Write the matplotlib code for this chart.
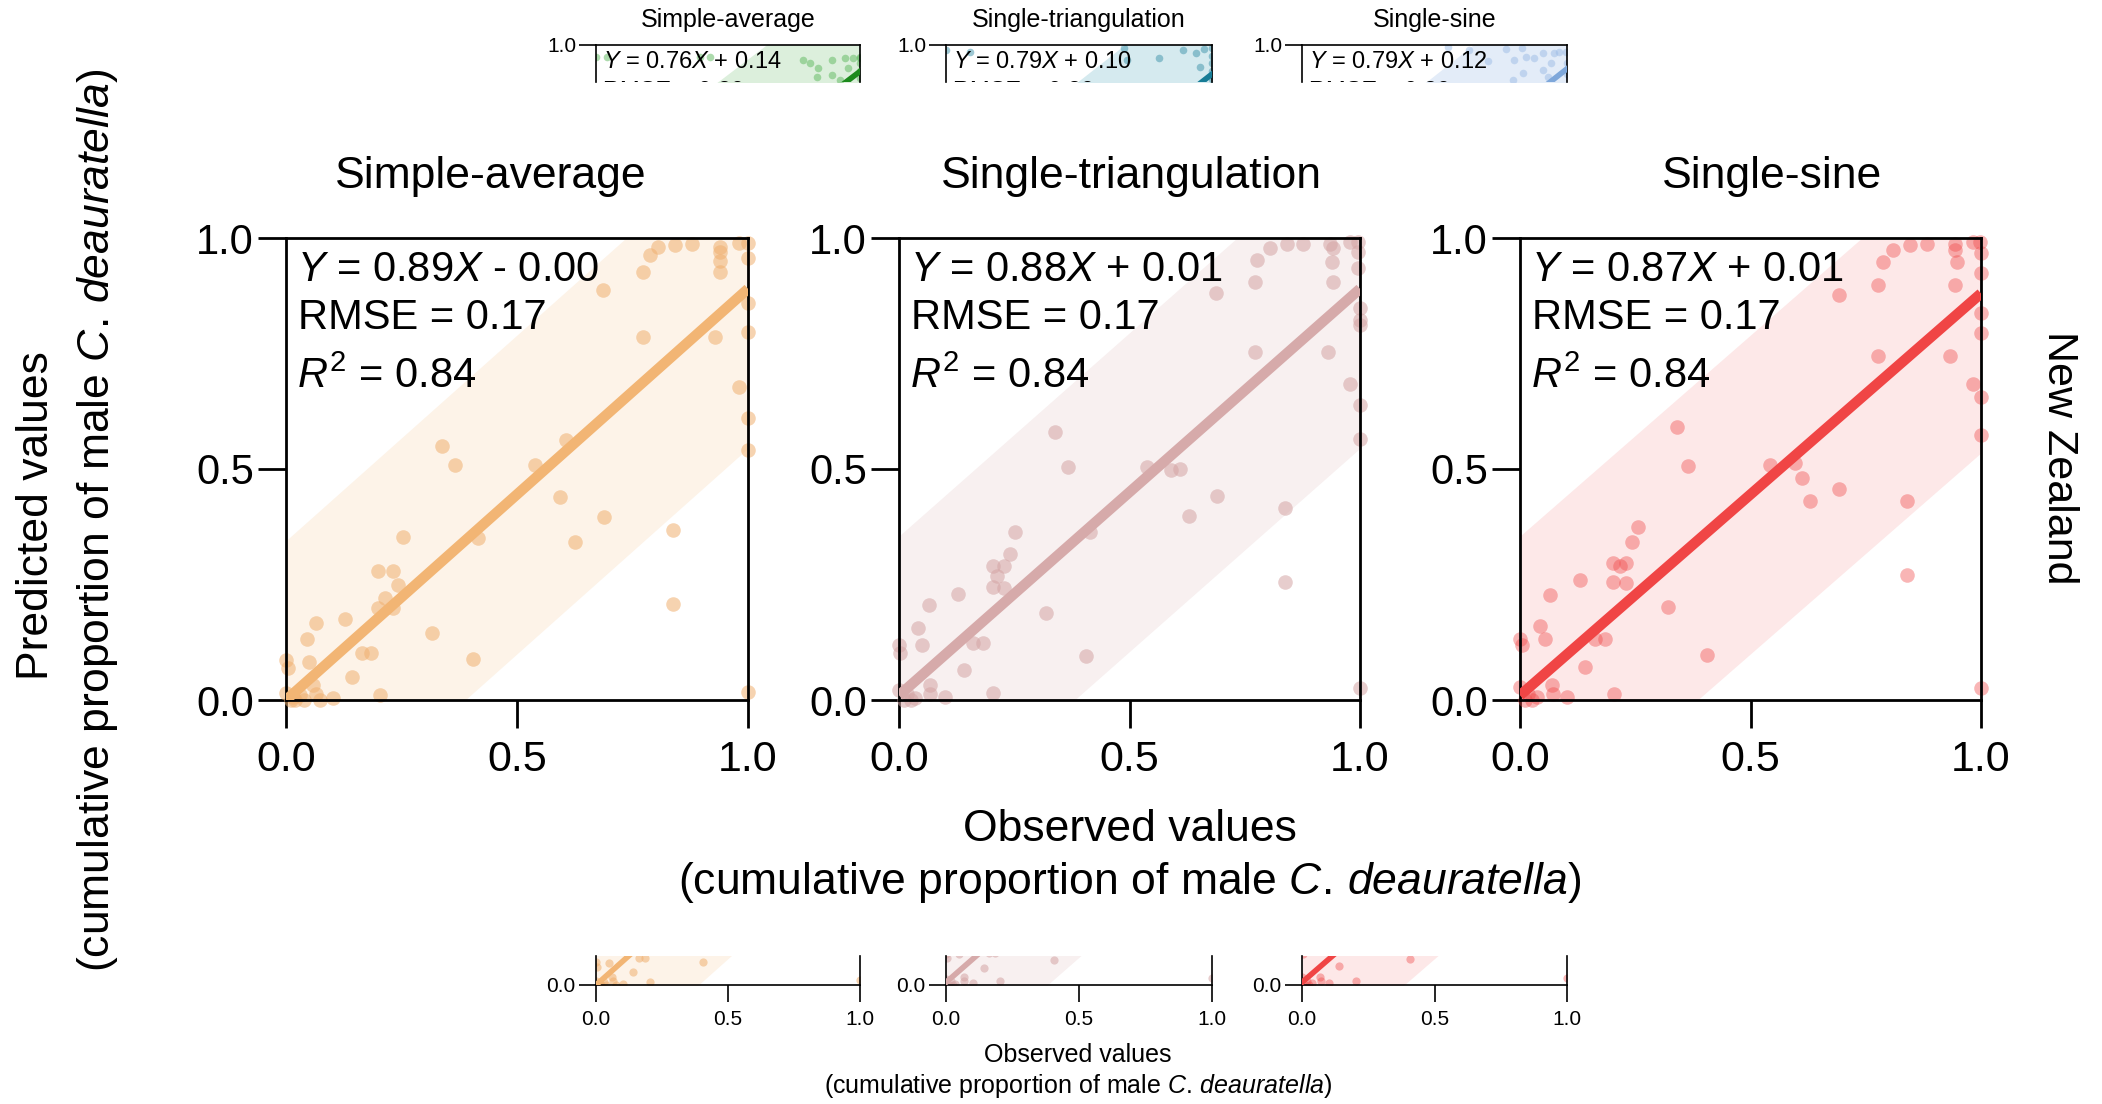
import numpy as np
import matplotlib.pyplot as plt

plt.rcParams['font.family'] = 'Liberation Sans'
plt.rcParams['mathtext.fontset'] = 'custom'
plt.rcParams['mathtext.rm'] = 'Liberation Sans'
plt.rcParams['mathtext.it'] = 'Liberation Sans:italic'

W, H = 2102, 1104

models = ['Simple-average', 'Single-triangulation', 'Single-sine']

# New Zealand: observed vs predicted cumulative proportion of males
sa_obs = [0.788, 0.806, 0.842, 0.878, 0.939, 0.939, 0.939, 0.939, 0.98, 1.0, 0.773, 0.687,
          1.0, 1.0, 1.0, 0.98, 1.0, 1.0, 1.0, 0.773, 0.929, 0.337, 0.366, 0.607, 0.539,
          0.592, 0.688, 0.838, 0.626, 0.838, 0.254, 0.416, 0.2, 0.231, 0.242, 0.214, 0.2,
          0.231, 0.317, 0.066, 0.128, 0.045, 0.05, 0.164, 0.185, 0.142, 0.405, 0.0, 0.005,
          0.0, 0.016, 0.038, 0.066, 0.074, 0.102, 0.203, 0.059, 0.01, 0.02, 0.03]
sa_pred = [0.963, 0.981, 0.985, 0.988, 0.98, 0.97, 0.95, 0.927, 0.99, 0.99, 0.927, 0.887,
           0.957, 0.859, 0.797, 0.678, 0.61, 0.541, 0.018, 0.786, 0.786, 0.55, 0.509, 0.563,
           0.509, 0.439, 0.397, 0.368, 0.341, 0.208, 0.352, 0.35, 0.28, 0.28, 0.25, 0.22, 0.2,
           0.2, 0.146, 0.167, 0.175, 0.131, 0.082, 0.101, 0.101, 0.05, 0.089, 0.087, 0.069,
           0.016, 0.007, 0.0, 0.014, 0.0, 0.004, 0.011, 0.032, 0.0, 0.0, 0.01]

st_obs = [0.776, 0.805, 0.841, 0.877, 0.935, 0.942, 0.939, 0.978, 0.996, 0.996, 0.996, 0.942,
          0.772, 0.688, 1.0, 1.0, 1.0, 0.772, 0.931, 0.978, 1.0, 1.0, 1.0, 0.338, 0.367,
          0.537, 0.591, 0.61, 0.689, 0.628, 0.837, 0.837, 0.252, 0.414, 0.241, 0.203, 0.228,
          0.213, 0.203, 0.228, 0.127, 0.319, 0.064, 0.042, 0.049, 0.161, 0.183, 0.142, 0.406,
          0.0, 0.002, 0.0, 0.017, 0.035, 0.067, 0.067, 0.1, 0.203, 0.01, 0.025]
st_pred = [0.952, 0.978, 0.987, 0.988, 0.988, 0.978, 0.949, 0.992, 0.992, 0.97, 0.934, 0.905,
           0.905, 0.88, 0.848, 0.822, 0.812, 0.754, 0.754, 0.685, 0.639, 0.566, 0.025, 0.581,
           0.505, 0.505, 0.498, 0.501, 0.442, 0.398, 0.416, 0.255, 0.364, 0.364, 0.317, 0.291,
           0.291, 0.269, 0.244, 0.242, 0.229, 0.188, 0.206, 0.155, 0.119, 0.123, 0.123, 0.065,
           0.095, 0.119, 0.101, 0.022, 0.014, 0.004, 0.032, 0.014, 0.007, 0.016, 0.0, 0.0]

ss_obs = [0.788, 0.81, 0.846, 0.882, 0.944, 0.944, 0.947, 0.944, 0.983, 0.998, 1.0, 1.0,
          0.777, 0.691, 1.0, 1.0, 0.983, 1.0, 1.0, 1.0, 0.777, 0.933, 0.34, 0.365, 0.542,
          0.597, 0.611, 0.628, 0.691, 0.84, 0.84, 0.257, 0.242, 0.202, 0.231, 0.217, 0.202,
          0.231, 0.13, 0.065, 0.322, 0.043, 0.054, 0.163, 0.184, 0.141, 0.406, 0.0, 0.004,
          0.0, 0.018, 0.036, 0.069, 0.072, 0.101, 0.204, 0.01, 0.025]
ss_pred = [0.949, 0.974, 0.985, 0.987, 0.988, 0.974, 0.949, 0.898, 0.992, 0.992, 0.967, 0.924,
           0.898, 0.877, 0.837, 0.794, 0.685, 0.656, 0.574, 0.025, 0.745, 0.745, 0.59, 0.506,
           0.509, 0.512, 0.48, 0.431, 0.456, 0.431, 0.271, 0.374, 0.341, 0.296, 0.296, 0.289,
           0.256, 0.253, 0.26, 0.227, 0.202, 0.16, 0.133, 0.133, 0.133, 0.072, 0.097, 0.133,
           0.119, 0.029, 0.014, 0.007, 0.032, 0.014, 0.007, 0.014, 0.0, 0.0]

nz_obs = [sa_obs, st_obs, ss_obs]
nz_pred = [sa_pred, st_pred, ss_pred]
nz_slope = [0.89, 0.88, 0.87]
nz_icept = [-0.0, 0.01, 0.01]
nz_rmse = [0.17, 0.17, 0.17]
nz_r2 = [0.84, 0.84, 0.84]
nz_band = 0.345

# region shown in the strip above (only its top edge)
top_obs = [
    [0.0, 0.043, 0.394, 0.432, 0.785, 0.81, 0.842, 0.893, 0.924, 0.956, 0.943, 0.975,
     1.0, 1.0, 1.0, 1.0, 1.0, 0.836, 0.893],
    [0.0, 0.09, 0.67, 0.68, 0.80, 0.89, 0.94, 0.955, 1.0, 1.0, 1.0, 1.0, 1.0, 0.97],
    [0.55, 0.63, 0.70, 0.77, 0.83, 0.80, 0.846, 0.877, 0.909, 0.952, 0.971, 0.996, 1.0,
     1.0, 0.796, 0.833, 0.909, 0.927, 0.94],
]
top_pred = [
    [0.953, 0.956, 0.956, 0.953, 0.943, 0.93, 0.912, 0.943, 0.867, 0.912, 0.95, 0.95,
     0.95, 0.956, 0.93, 0.9, 0.874, 0.88, 0.886],
    [0.98, 0.975, 0.987, 0.943, 0.95, 0.98, 0.97, 0.918, 0.99, 0.96, 0.93, 0.9, 0.87, 0.985],
    [0.994, 0.98, 0.94, 0.985, 0.99, 0.943, 0.956, 0.95, 0.969, 0.969, 0.975, 0.975, 0.93,
     0.89, 0.867, 0.893, 0.905, 0.88, 0.93],
]
top_slope = [0.76, 0.79, 0.79]
top_icept = [0.14, 0.10, 0.12]
top_rmse = [0.20, 0.20, 0.20]
top_band = 0.37

nz_line = ['#F2B574', '#D6AAAA', '#F04545']
nz_pts = ['#F0B070', '#D4A5A5', '#F04848']
nz_alpha = [0.55, 0.55, 0.4]
nz_fill = ['#FDF3E8', '#F8F0F0', '#FDE8E8']
top_line = ['#1C8A1C', '#177C96', '#7EA7DA']
top_pts = ['#5DB85D', '#3E93AA', '#9DBCE6']
top_fill = ['#DCEFDC', '#D5EAEF', '#E3ECF8']

species = r'$\mathit{C.\,deauratella}$'


def box(x0, y0, x1, y1):
    return [x0 / W, 1 - y1 / H, (x1 - x0) / W, (y1 - y0) / H]


def eq_text(m, b):
    sign = '-' if np.signbit(b) else '+'
    return '$Y$ = %.2f$X$ %s %.2f' % (m, sign, abs(b))


fig = plt.figure(figsize=(W / 100, H / 100), dpi=100)
xs = np.array([0.0, 1.0])

# main panels
main_x = [(286, 748), (899, 1360), (1520, 1981)]
title_x = [491, 1131, 1772]
for i in range(3):
    ax = fig.add_axes(box(main_x[i][0], 238, main_x[i][1], 700))
    m, b = nz_slope[i], nz_icept[i]
    ax.fill_between(xs, m * xs + b - nz_band, m * xs + b + nz_band,
                    color=nz_fill[i], lw=0, zorder=1)
    ax.scatter(nz_obs[i], nz_pred[i], s=110, color=nz_pts[i], alpha=nz_alpha[i], lw=0,
               clip_on=False, zorder=2)
    ax.plot(xs, m * xs + b, color=nz_line[i], lw=7.5, solid_capstyle='butt', zorder=3)
    ax.set_xlim(0, 1)
    ax.set_ylim(0, 1)
    ax.set_xticks([0, 0.5, 1.0])
    ax.set_yticks([0, 0.5, 1.0])
    ax.set_xticklabels(['0.0', '0.5', '1.0'], fontsize=31)
    ax.set_yticklabels(['0.0', '0.5', '1.0'], fontsize=30)
    ax.tick_params(axis='both', direction='out', length=20, width=2)
    ax.tick_params(axis='x', pad=9)
    ax.tick_params(axis='y', pad=3)
    for s in ax.spines.values():
        s.set_linewidth(2)
    ax.text(0.023, 0.907, eq_text(m, b), transform=ax.transAxes, fontsize=30,
            va='baseline', zorder=4)
    ax.text(0.026, 0.802, 'RMSE = %.2f' % nz_rmse[i], transform=ax.transAxes,
            fontsize=30, va='baseline', zorder=4)
    ax.text(0.023, 0.675, '$R^2$ = %.2f' % nz_r2[i], transform=ax.transAxes,
            fontsize=30, va='baseline', zorder=4)
    fig.text(title_x[i] / W, 1 - 188 / H, models[i], ha='center', va='baseline',
             fontsize=32)

# strip above: only the top of each panel
small_x = [(596, 860), (946, 1212), (1302, 1567)]
for i in range(3):
    ax = fig.add_axes(box(small_x[i][0], 45, small_x[i][1], 82))
    m, b = top_slope[i], top_icept[i]
    ax.fill_between(xs, m * xs + b - top_band, m * xs + b + top_band,
                    color=top_fill[i], lw=0, zorder=1)
    ax.scatter(top_obs[i], top_pred[i], s=30, color=top_pts[i], alpha=0.5, lw=0, zorder=2)
    ax.plot(xs, m * xs + b, color=top_line[i], lw=4, zorder=3)
    ax.set_xlim(0, 1)
    ax.set_ylim(1 - 37 / 264, 1)
    ax.set_xticks([])
    ax.set_yticks([1.0])
    ax.set_yticklabels(['1.0'], fontsize=15)
    ax.tick_params(axis='y', length=12, width=1.2, pad=2)
    ax.spines['bottom'].set_visible(False)
    for s in ax.spines.values():
        s.set_linewidth(1.2)
    ax.text(0.028, 0.912, eq_text(m, b), fontsize=17, va='baseline', clip_on=True, zorder=4)
    ax.text(0.028, 0.80, 'RMSE = %.2f' % top_rmse[i], fontsize=17, va='baseline',
            clip_on=True, zorder=4)
    fig.text((small_x[i][0] + small_x[i][1]) / 2 / W, 1 - 27 / H, models[i],
             ha='center', va='baseline', fontsize=18)

# strip below: only the bottom of each panel
for i in range(3):
    ax = fig.add_axes(box(small_x[i][0], 956, small_x[i][1], 985))
    m, b = nz_slope[i], nz_icept[i]
    ax.fill_between(xs, m * xs + b - nz_band, m * xs + b + nz_band,
                    color=nz_fill[i], lw=0, zorder=1)
    ax.scatter(nz_obs[i], nz_pred[i], s=35, color=nz_pts[i], alpha=nz_alpha[i], lw=0,
               zorder=2)
    ax.plot(xs, m * xs + b, color=nz_line[i], lw=4, zorder=3)
    ax.set_xlim(0, 1)
    ax.set_ylim(0, 29 / 264)
    ax.set_xticks([0, 0.5, 1.0])
    ax.set_xticklabels(['0.0', '0.5', '1.0'], fontsize=15)
    ax.set_yticks([0])
    ax.set_yticklabels(['0.0'], fontsize=15)
    ax.tick_params(axis='both', length=12, width=1.2, pad=3)
    ax.tick_params(axis='x', pad=6)
    ax.spines['top'].set_visible(False)
    for s in ax.spines.values():
        s.set_linewidth(1.2)

fig.text(1078 / W, 1 - 1062 / H, 'Observed values', ha='center', va='baseline', fontsize=18)
fig.text(1078 / W, 1 - 1093 / H, '(cumulative proportion of male ' + species + ')',
         ha='center', va='baseline', fontsize=18)

# shared axis labels
fig.text(1130 / W, 1 - 841 / H, 'Observed values', ha='center', va='baseline', fontsize=32)
fig.text(1130 / W, 1 - 894 / H, '(cumulative proportion of male ' + species + ')',
         ha='center', va='baseline', fontsize=32)
fig.text(37 / W, 1 - 516 / H, 'Predicted values', rotation=90, ha='center', va='center',
         fontsize=32)
fig.text(98 / W, 1 - 520 / H, '(cumulative proportion of male ' + species + ')',
         rotation=90, ha='center', va='center', fontsize=32)
fig.text(2059 / W, 1 - 458 / H, 'New Zealand', rotation=270, ha='center', va='center',
         fontsize=31)

fig.savefig('out.png', dpi=100)
